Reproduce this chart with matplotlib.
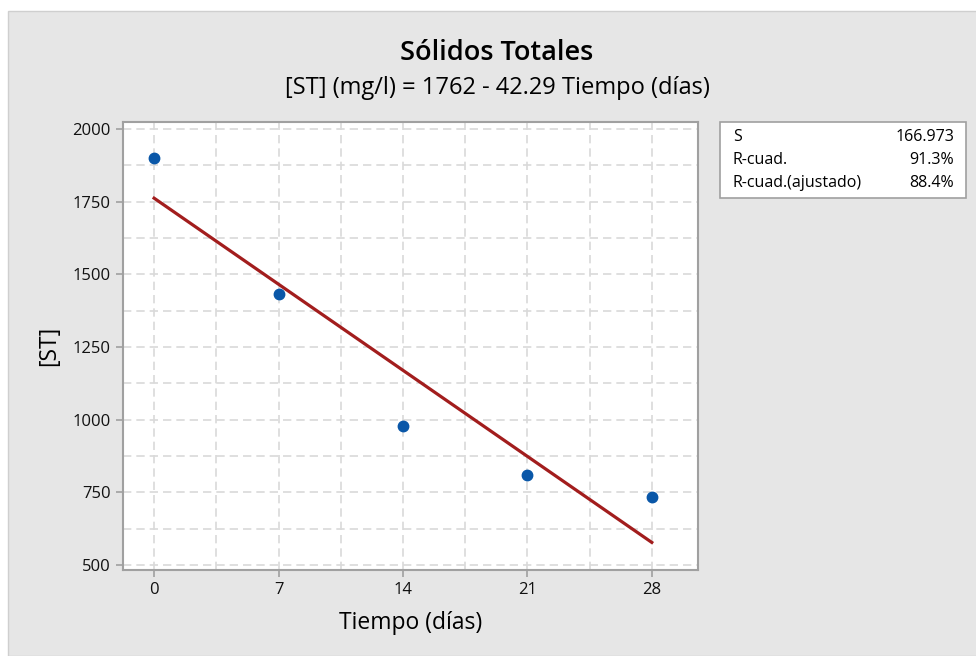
import numpy as np
import matplotlib.pyplot as plt
from matplotlib.patches import Rectangle

plt.rcParams['font.family'] = ['Open Sans', 'DejaVu Sans']

# Data
tiempo = [0, 7, 14, 21, 28]
st_values = [1900, 1432, 980, 810, 733]
intercept = 1762
slope = -42.29
stat_names = ['S', 'R-cuad.', 'R-cuad.(ajustado)']
stat_values = ['166.973', '91.3%', '88.4%']

fig = plt.figure(figsize=(9.76, 6.56), dpi=100, facecolor='white')

# gray panel behind the chart
fig.patches.append(Rectangle((8 / 976, 0), 1, 1 - 11 / 656, transform=fig.transFigure,
                             facecolor='#e6e6e6', edgecolor='#cfcfcf', lw=1, zorder=-10))

ax = fig.add_axes([123 / 976, 1 - 570 / 656, (698 - 123) / 976, (570 - 122) / 656])
ax.set_facecolor('white')

# fitted line
xfit = np.array([tiempo[0], tiempo[-1]])
ax.plot(xfit, intercept + slope * xfit, color='#a21d1d', lw=2.3, zorder=3)
ax.plot(tiempo, st_values, 'o', color='#0a57a8', ms=7.5, zorder=4)

ax.set_xlim(-1.75, 30.6)
ax.set_ylim(483, 2024)
ax.set_xticks(tiempo)
ax.set_yticks([500, 750, 1000, 1250, 1500, 1750, 2000])
ax.set_xticks([3.5, 10.5, 17.5, 24.5], minor=True)
ax.set_yticks([625, 875, 1125, 1375, 1625, 1875], minor=True)

ax.grid(True, which='both', color='#d9d9d9', ls=(0, (5, 3)), lw=1.2)
ax.set_axisbelow(True)
ax.tick_params(which='major', direction='out', length=5, width=1.2, color='#a0a0a0',
               labelsize=12, pad=4, labelcolor='#111111')
ax.tick_params(which='minor', length=0)
for sp in ax.spines.values():
    sp.set_color('#a0a0a0')
    sp.set_linewidth(1.5)

ax.set_xlabel('Tiempo (días)', fontsize=16.5, labelpad=9, fontweight='medium')
ax.set_ylabel('[ST]', fontsize=16.5, labelpad=8, fontweight='medium')

fig.text(497 / 976, 1 - 53 / 656, 'Sólidos Totales', ha='center', va='center',
         fontsize=19.5, fontweight='semibold')
fig.text(497 / 976, 1 - 88 / 656, '[ST] (mg/l) = 1762 - 42.29 Tiempo (días)',
         ha='center', va='center', fontsize=17)

# stats box
fig.patches.append(Rectangle((720 / 976, 1 - 198 / 656), 246 / 976, 76 / 656,
                             transform=fig.transFigure, facecolor='white',
                             edgecolor='#a0a0a0', lw=1.2, zorder=5))
for i, (name, val) in enumerate(zip(stat_names, stat_values)):
    y = 1 - (137 + 23 * i) / 656
    fig.text(733 / 976, y, name, ha='left', va='center', fontsize=11.5, zorder=6)
    fig.text(954 / 976, y, val, ha='right', va='center', fontsize=11.5, zorder=6)

fig.savefig('out.png', dpi=100)
